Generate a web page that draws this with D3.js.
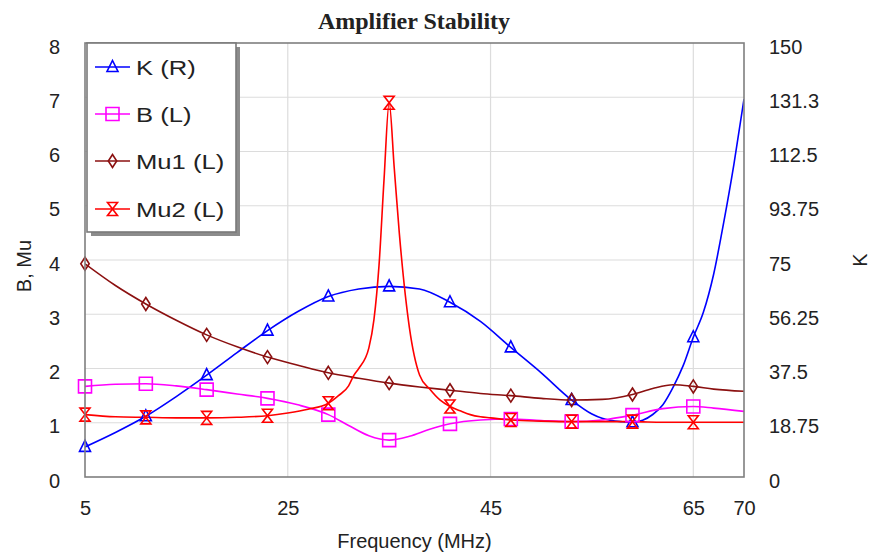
<!DOCTYPE html>
<html>
<head>
<meta charset="utf-8">
<script src="https://cdn.jsdelivr.net/npm/d3@7"></script>
<style>
  html, body { margin: 0; padding: 0; background: #ffffff; }
  svg { display: block; }
  text { font-family: "Liberation Sans", Arial, sans-serif; fill: #222; }
</style>
</head>
<body>
<svg id="chart" width="872" height="553"></svg>
<script>
// ---------- DATA ----------
const title = "Amplifier Stability";
const xTicks = [5, 25, 45, 65, 70];
const leftTicks = [0, 1, 2, 3, 4, 5, 6, 7, 8];
const rightTicks = [0, 18.75, 37.5, 56.25, 75, 93.75, 112.5, 131.25, 150];
const rightTickLabels = ["0", "18.75", "37.5", "56.25", "75", "93.75", "112.5", "131.3", "150"];
const markerFreqs = [5, 11, 17, 23, 29, 35, 41, 47, 53, 59, 65];

const kFreq = [5, 8, 11, 14, 17, 20, 23, 26, 29, 32, 35, 38, 41, 44, 47, 50, 53, 55, 56, 58, 59, 60, 61, 62, 63, 64, 65, 66, 67, 68, 69, 70];
const kValues = [10.4, 15.4, 21.0, 27.8, 35.2, 43.0, 50.6, 57.2, 62.4, 65.0, 65.9, 65.0, 60.4, 53.8, 44.8, 36.0, 26.6, 21.8, 20.3, 19.1, 18.9, 19.6, 21.6, 25.0, 31.0, 38.5, 48.3, 57.0, 70.0, 88.0, 108.0, 130.6];

const bFreq = [5, 8, 11, 14, 17, 20, 23, 26, 29, 31, 33, 35, 37, 39, 41, 44, 47, 50, 53, 56, 59, 62, 65, 67, 70];
const bValues = [1.67, 1.71, 1.72, 1.68, 1.61, 1.53, 1.45, 1.33, 1.15, 0.95, 0.76, 0.68, 0.75, 0.88, 0.98, 1.05, 1.07, 1.04, 1.02, 1.05, 1.14, 1.26, 1.30, 1.27, 1.21];

const mu1Freq = [5, 8, 11, 14, 17, 20, 23, 26, 29, 32, 35, 38, 41, 44, 47, 50, 53, 56, 59, 61, 63, 65, 67, 70];
const mu1Values = [3.93, 3.53, 3.19, 2.89, 2.62, 2.40, 2.21, 2.06, 1.92, 1.82, 1.73, 1.66, 1.60, 1.54, 1.50, 1.45, 1.42, 1.43, 1.52, 1.63, 1.70, 1.67, 1.62, 1.58];

const mu2Freq = [5, 8, 11, 14, 17, 20, 23, 25, 27, 29, 30, 31, 31.5, 32, 33, 33.5, 34, 34.5, 35, 35.5, 36, 37, 38, 39, 40, 41, 42, 43, 44, 45, 47, 50, 53, 56, 59, 62, 65, 68, 70];
const mu2Values = [1.15, 1.11, 1.10, 1.09, 1.09, 1.10, 1.13, 1.18, 1.25, 1.36, 1.50, 1.68, 1.87, 2.00, 2.38, 2.90, 3.90, 5.50, 6.90, 5.70, 4.50, 2.75, 1.88, 1.62, 1.42, 1.30, 1.22, 1.15, 1.11, 1.09, 1.05, 1.03, 1.02, 1.02, 1.02, 1.01, 1.01, 1.01, 1.01];

const seriesNames = ["K (R)", "B (L)", "Mu1 (L)", "Mu2 (L)"];
const seriesColors = ["#0000ff", "#ff00ff", "#8b1010", "#ff0000"];

// ---------- LAYOUT ----------
const svg = d3.select("#chart");
const margin = { left: 85, right: 744, top: 43, bottom: 477 };

const x = d3.scaleLinear().domain([5, 70]).range([margin.left, margin.right]);
const yL = d3.scaleLinear().domain([0, 8]).range([margin.bottom, margin.top]);
const yR = d3.scaleLinear().domain([0, 150]).range([margin.bottom, margin.top]);

// gridlines
const grid = svg.append("g");
grid.selectAll("line.h").data(leftTicks.filter(d => d > 0 && d < 8)).enter().append("line")
  .attr("x1", margin.left).attr("x2", margin.right)
  .attr("y1", d => yL(d)).attr("y2", d => yL(d))
  .attr("stroke", "#dcdcdc").attr("stroke-width", 1.2);
grid.selectAll("line.v").data(xTicks.filter(d => d > 5 && d < 70)).enter().append("line")
  .attr("y1", margin.top).attr("y2", margin.bottom)
  .attr("x1", d => x(d)).attr("x2", d => x(d))
  .attr("stroke", "#dcdcdc").attr("stroke-width", 1.2);

// axes (labels only)
const axL = svg.append("g").attr("transform", `translate(${margin.left - 25},0)`)
  .call(d3.axisLeft(yL).tickValues(leftTicks).tickSize(0).tickPadding(0).tickFormat(d3.format("d")));
const axR = svg.append("g").attr("transform", `translate(${margin.right + 25},0)`)
  .call(d3.axisRight(yR).tickValues(rightTicks).tickSize(0).tickPadding(0).tickFormat((d, i) => rightTickLabels[i]));
const axB = svg.append("g").attr("transform", `translate(0,${margin.bottom + 24})`)
  .call(d3.axisBottom(x).tickValues(xTicks).tickSize(0).tickPadding(0).tickFormat(d3.format("d")));
[axL, axR, axB].forEach(a => {
  a.select(".domain").remove();
  a.selectAll("text").style("font-family", "'Liberation Sans', Arial, sans-serif")
    .style("font-size", "20px").attr("fill", "#222");
});
axL.selectAll("text").attr("dy", "0.5em");
axR.selectAll("text").attr("dy", "0.5em");
axB.selectAll("text").attr("dy", "0.71em");

// axis titles
svg.append("text").attr("x", (margin.left + margin.right) / 2).attr("y", 548)
  .attr("text-anchor", "middle").style("font-size", "20px").text("Frequency (MHz)");
svg.append("text").attr("transform", "translate(31,266) rotate(-90)")
  .attr("text-anchor", "middle").style("font-size", "20px").text("B, Mu");
svg.append("text").attr("transform", "translate(867,260) rotate(-90)")
  .attr("text-anchor", "middle").style("font-size", "20px").text("K");

// title
svg.append("text").attr("x", 414).attr("y", 29).attr("text-anchor", "middle")
  .style("font-family", "'Liberation Serif', 'Times New Roman', serif")
  .style("font-weight", "bold").style("font-size", "24px").attr("fill", "#111")
  .text(title);

// clip
svg.append("clipPath").attr("id", "plotclip").append("rect")
  .attr("x", margin.left).attr("y", margin.top - 10)
  .attr("width", margin.right - margin.left).attr("height", margin.bottom - margin.top + 10);

// marker shapes
const markerPaths = [
  "M0,-6.5L5.5,4.5L-5.5,4.5Z",                 // triangle
  "M-6.5,-6.5H6.5V6.5H-6.5Z",                   // square
  "M0,-6.5L4.2,0L0,6.5L-4.2,0Z",                // diamond
  "M-5,-6.5H5L-5,6.5H5Z"                        // hourglass
];

const seriesData = [
  { f: kFreq, v: kValues, y: yR },
  { f: bFreq, v: bValues, y: yL },
  { f: mu1Freq, v: mu1Values, y: yL },
  { f: mu2Freq, v: mu2Values, y: yL }
];

const plot = svg.append("g").attr("clip-path", "url(#plotclip)");
seriesData.forEach((s, i) => {
  const pts = s.f.map((f, j) => ({ f, v: s.v[j] }));
  const line = d3.line().x(d => x(d.f)).y(d => s.y(d.v)).curve(d3.curveMonotoneX);
  plot.append("path").datum(pts).attr("d", line)
    .attr("fill", "none").attr("stroke", seriesColors[i]).attr("stroke-width", 1.6);
});
const markersG = svg.append("g");
seriesData.forEach((s, i) => {
  const pts = s.f.map((f, j) => ({ f, v: s.v[j] })).filter(d => markerFreqs.includes(d.f));
  markersG.selectAll(null).data(pts).enter().append("path")
    .attr("d", markerPaths[i])
    .attr("transform", d => `translate(${x(d.f)},${s.y(d.v)})`)
    .attr("fill", "none").attr("stroke", seriesColors[i]).attr("stroke-width", 1.6);
});

// plot border
svg.append("rect").attr("x", margin.left).attr("y", margin.top)
  .attr("width", margin.right - margin.left).attr("height", margin.bottom - margin.top)
  .attr("fill", "none").attr("stroke", "#7f7f7f").attr("stroke-width", 1.6);

// legend
const lg = svg.append("g");
lg.append("rect").attr("x", 91).attr("y", 47).attr("width", 149).attr("height", 189).attr("fill", "#8c8c8c");
lg.append("rect").attr("x", 87).attr("y", 43).attr("width", 149).attr("height", 189)
  .attr("fill", "#ffffff").attr("stroke", "#7a7a7a").attr("stroke-width", 1.6);
const rowY = [67, 114, 161, 209];
seriesNames.forEach((name, i) => {
  lg.append("line").attr("x1", 95).attr("x2", 130).attr("y1", rowY[i]).attr("y2", rowY[i])
    .attr("stroke", seriesColors[i]).attr("stroke-width", 1.6);
  lg.append("path").attr("d", markerPaths[i]).attr("transform", `translate(112.5,${rowY[i]})`)
    .attr("fill", "none").attr("stroke", seriesColors[i]).attr("stroke-width", 1.6);
  lg.append("text").attr("transform", `translate(136,${rowY[i] + 7.5}) scale(1.28,1)`)
    .style("font-size", "20px").attr("fill", "#111").text(name);
});
</script>
</body>
</html>
